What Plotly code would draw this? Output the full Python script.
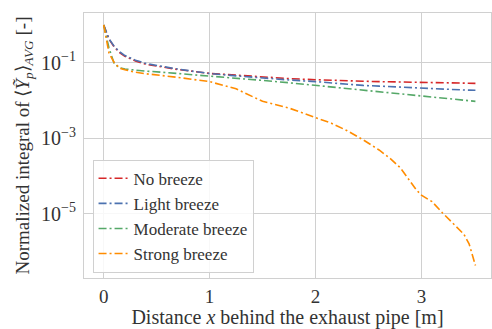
import plotly.graph_objects as go

# Distance behind the exhaust pipe [m]
x = [0.0, 0.05, 0.1, 0.15, 0.2, 0.3, 0.4, 0.55, 0.7, 0.85, 1.0, 1.25, 1.5, 1.75,
     2.0, 2.15, 2.3, 2.45, 2.6, 2.7, 2.8, 2.9, 2.95, 3.0, 3.05, 3.1, 3.2, 3.3,
     3.4, 3.45, 3.51]

# Normalized integral of the averaged mass fraction per wind condition
no_breeze = [1.0, 0.42, 0.26, 0.186, 0.148, 0.112, 0.091, 0.076, 0.066, 0.059,
             0.052, 0.047, 0.042, 0.038, 0.0355, 0.034, 0.033, 0.0324, 0.0316,
             0.0313, 0.031, 0.0305, 0.0303, 0.0302, 0.0300, 0.0299, 0.0295,
             0.0292, 0.0288, 0.0288, 0.0285]
light_breeze = [1.0, 0.43, 0.27, 0.195, 0.155, 0.117, 0.095, 0.079, 0.068,
                0.059, 0.052, 0.045, 0.039, 0.035, 0.0316, 0.0290, 0.0263,
                0.0251, 0.0240, 0.0232, 0.0224, 0.0216, 0.0212, 0.0209, 0.0206,
                0.0204, 0.0200, 0.0195, 0.0190, 0.0188, 0.0186]
moderate_breeze = [1.0, 0.245, 0.093, 0.074, 0.068, 0.063, 0.060, 0.056,
                   0.052, 0.049, 0.0447, 0.039, 0.034, 0.0295, 0.0251, 0.0229,
                   0.0209, 0.0191, 0.0174, 0.0164, 0.0155, 0.0145, 0.0140,
                   0.0135, 0.0131, 0.0126, 0.0117, 0.0110, 0.0102, 0.0099,
                   0.0095]
strong_breeze = [1.0, 0.18, 0.10, 0.072, 0.065, 0.056, 0.051, 0.0447, 0.041,
                 0.036, 0.0316, 0.0204, 0.0095, 0.0063, 0.00347, 0.0025,
                 0.00158, 0.00091, 0.00049, 0.0003, 0.000166, 6.8e-5, 4.4e-5,
                 3.1e-5, 2.5e-5, 2.1e-5, 1.05e-5, 5.4e-6, 2.9e-6, 1.6e-6, 4.3e-7]

series = [
    ("No breeze", no_breeze, "#d62728"),
    ("Light breeze", light_breeze, "#4c72b0"),
    ("Moderate breeze", moderate_breeze, "#55a868"),
    ("Strong breeze", strong_breeze, "#ff8c00"),
]

y_tick_vals = [1e-5, 1e-3, 1e-1]
y_tick_text = ["10<sup>\u22125</sup>", "10<sup>\u22123</sup>", "10<sup>\u22121</sup>"]
x_tick_vals = [0, 1, 2, 3]

FONT = "Liberation Serif"
TEXT = "#333333"
GRID = "#d0d0d0"

fig = go.Figure()
for name, vals, color in series:
    fig.add_trace(go.Scatter(
        x=x, y=vals, name=name, mode="lines",
        line=dict(color=color, width=1.6, dash="8px,3px,2px,3px"),
    ))

fig.update_layout(
    width=492, height=329,
    margin=dict(l=84, r=0, t=13, b=48),
    paper_bgcolor="white", plot_bgcolor="white",
    font=dict(family=FONT, size=20, color=TEXT),
    showlegend=True,
    legend=dict(
        x=0.021, y=0.02, xanchor="left", yanchor="bottom",
        bgcolor="rgba(255,255,255,0.85)", bordercolor=GRID, borderwidth=1,
        font=dict(family=FONT, size=17, color=TEXT),
        tracegroupgap=0,
    ),
)

fig.update_xaxes(
    range=[-0.186, 3.657], tickvals=x_tick_vals,
    showgrid=True, gridcolor=GRID, gridwidth=1,
    showline=True, linecolor=GRID, linewidth=1, mirror=True,
    zeroline=False, ticks="", ticklabelstandoff=1,
    tickfont=dict(size=19),
    title=dict(text="Distance <i>x</i> behind the exhaust pipe [m]",
               standoff=8, font=dict(size=20)),
)
fig.update_yaxes(
    type="log", range=[-6.70, 0.317],
    tickvals=y_tick_vals, ticktext=y_tick_text,
    showgrid=True, gridcolor=GRID, gridwidth=1,
    showline=True, linecolor=GRID, linewidth=1, mirror=True,
    zeroline=False, ticks="", ticklabelstandoff=3,
    title=dict(
        text="Normalized integral of \u27e8<i>\u1ef8</i><sub><i>p</i></sub>\u27e9<sub><i>AVG</i></sub> [-]",
        standoff=6, font=dict(size=19)),
)

fig.write_html("out.html")
